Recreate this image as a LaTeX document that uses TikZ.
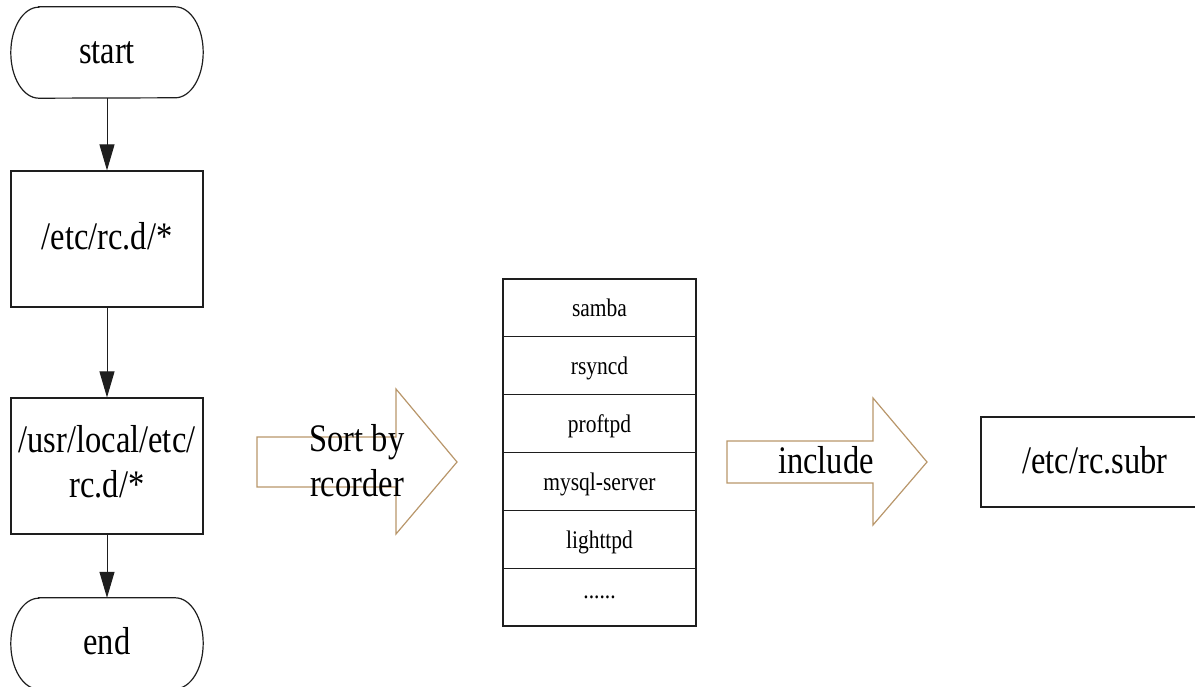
\documentclass[tikz,border=0pt]{standalone}
\usepackage{fontspec}
\setmainfont{Liberation Serif}
\usepackage{graphicx}
\usetikzlibrary{arrows.meta}
\definecolor{arrtan}{RGB}{184,150,106}
\definecolor{lnk}{RGB}{30,30,30}
\newcommand\bigtxt[1]{\scalebox{1}[1.2]{\fontsize{32.5}{37.5}\selectfont #1}}
\newcommand\smalltxt[1]{\scalebox{1}[1.18]{\fontsize{21.5}{25}\selectfont #1}}
\begin{document}
\begin{tikzpicture}[x=1pt,y=-1pt,
  box/.style={draw=lnk, line width=1.2pt, inner sep=0pt},
  term/.style={inner sep=0pt, minimum width=192pt, minimum height=91pt, text height=22pt, text depth=0pt},
  outline/.style={draw=lnk, line width=1.2pt},
  flow/.style={draw=lnk, line width=1pt, -{Triangle[length=26pt,width=15pt]}},
  blk/.style={draw=arrtan, line width=1.2pt, line join=miter},
  row/.style={box, minimum width=193pt, minimum height=57.83pt, text height=18pt, text depth=0pt}]
\useasboundingbox (0,0) rectangle (1195,687);
\clip (0,0) rectangle (1195,687);

% left flow
\node[term] (start) at (107,52.5) {\bigtxt{start}};
\draw[outline] ([xshift=28pt]start.north west) -- ([xshift=-28pt]start.north east)
  arc[start angle=90,end angle=-90,x radius=28pt,y radius=45.5pt]
  -- ([xshift=28pt]start.south west)
  arc[start angle=270,end angle=90,x radius=28pt,y radius=45.5pt] -- cycle;

\node[box, minimum width=192pt, minimum height=136pt, text height=22pt, text depth=0pt] (rcd) at (107,239) {\bigtxt{/etc/rc.d/*}};
\node[box, minimum width=192pt, minimum height=136pt] (local) at (107,466)
  {\bigtxt{\begin{tabular}{@{}c@{}}/usr/local/etc/\\rc.d/*\end{tabular}}};

\node[term] (end) at (107,643.5) {\bigtxt{end}};
\draw[outline] ([xshift=28pt]end.north west) -- ([xshift=-28pt]end.north east)
  arc[start angle=90,end angle=-90,x radius=28pt,y radius=45.5pt]
  -- ([xshift=28pt]end.south west)
  arc[start angle=270,end angle=90,x radius=28pt,y radius=45.5pt] -- cycle;

\draw[flow] (start.south) -- (rcd.north);
\draw[flow] (rcd.south) -- (local.north);
\draw[flow] (local.south) -- (end.north);

% sort arrow
\draw[blk] (257,437) -- (396,437) -- (396,389) -- (457,462) -- (396,534) -- (396,487) -- (257,487) -- cycle;
\node (sort) at (357,465) {\bigtxt{\begin{tabular}{@{}c@{}}Sort by\\rcorder\end{tabular}}};

% list
\node[row] (r1) at (599.5,307.9) {\smalltxt{samba}};
\node[row] (r2) at (599.5,365.7) {\smalltxt{rsyncd}};
\node[row] (r3) at (599.5,423.6) {\smalltxt{proftpd}};
\node[row] (r4) at (599.5,481.4) {\smalltxt{mysql-server}};
\node[row] (r5) at (599.5,539.2) {\smalltxt{lighttpd}};
\node[row, text height=3pt] (r6) at (599.5,597.1) {\smalltxt{......}};

% include arrow
\draw[blk] (727,441) -- (873,441) -- (873,398) -- (927,462) -- (873,525) -- (873,483) -- (727,483) -- cycle;
\node[text height=22pt, text depth=0pt] (inc) at (826,462) {\bigtxt{include}};

% rc.subr
\node[box, minimum width=228pt, minimum height=90pt, text height=22pt, text depth=0pt] (subr) at (1095,462) {\bigtxt{/etc/rc.subr}};
\end{tikzpicture}
\end{document}
